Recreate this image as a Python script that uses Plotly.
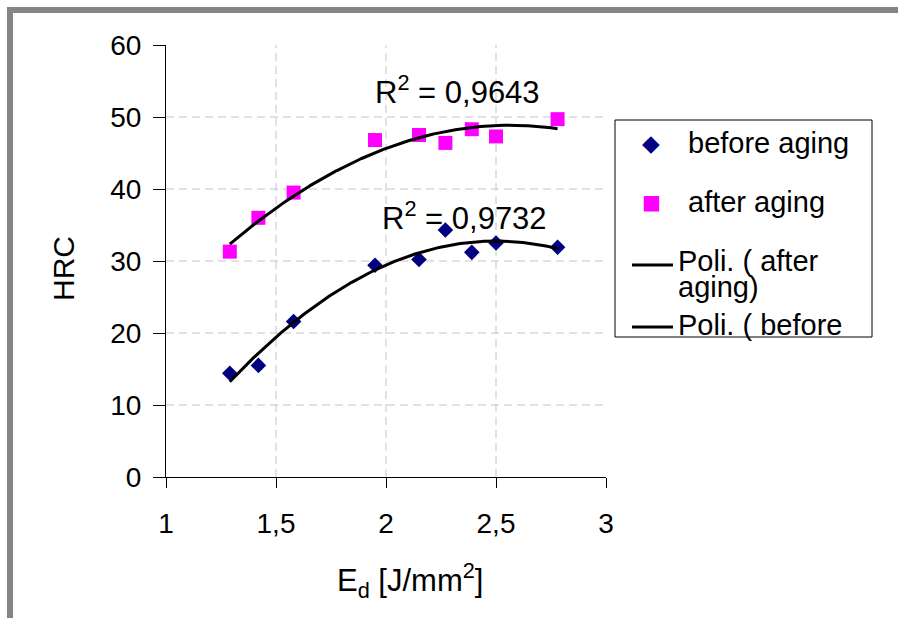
import numpy as np
import plotly.graph_objects as go

# Data
ed = [1.29, 1.42, 1.58, 1.95, 2.15, 2.27, 2.39, 2.50, 2.78]
hrc_before = [14.4, 15.5, 21.6, 29.4, 30.2, 34.3, 31.2, 32.5, 31.9]
hrc_after = [31.3, 36.0, 39.5, 46.8, 47.5, 46.4, 48.3, 47.3, 49.7]
r2_before = "0,9732"
r2_after = "0,9643"
x_ticks = [1, 1.5, 2, 2.5, 3]
x_tick_labels = ["1", "1,5", "2", "2,5", "3"]
y_ticks = [0, 10, 20, 30, 40, 50, 60]
legend_names = ["before aging", "after aging", "Poli. ( after", "aging)", "Poli. ( before"]

FONT = "Liberation Sans, Arial, sans-serif"
FS = 28

# Plot-area geometry (pixels) for paper conversions
L, R, T, B = 166, 606, 45, 477
W, H = 898, 618
def px(x):
    return (x - L) / (R - L)
def py(y):
    return (B - y) / (B - T)

# polynomial (order 2) trendlines
xs = np.linspace(min(ed), max(ed), 200)
pb = np.polyfit(ed, hrc_before, 2)
pa = np.polyfit(ed, hrc_after, 2)

fig = go.Figure()
fig.add_trace(go.Scatter(x=ed, y=hrc_before, mode="markers", name="before aging",
                         marker=dict(symbol="diamond", size=12, color="#000080"),
                         showlegend=False))
fig.add_trace(go.Scatter(x=ed, y=hrc_after, mode="markers", name="after aging",
                         marker=dict(symbol="square", size=14, color="#ff00ff"),
                         showlegend=False))
fig.add_trace(go.Scatter(x=xs, y=np.polyval(pa, xs), mode="lines", name="Poli. ( after aging)",
                         line=dict(color="black", width=3), showlegend=False))
fig.add_trace(go.Scatter(x=xs, y=np.polyval(pb, xs), mode="lines", name="Poli. ( before aging)",
                         line=dict(color="black", width=3), showlegend=False))

GRID = dict(color="#c4c4c4", width=1, dash="8px,5px")
shapes = []
# gridlines (dashed), interior only
for yv in y_ticks[1:-1]:
    shapes.append(dict(type="line", xref="x", yref="y", x0=x_ticks[0], x1=x_ticks[-1], y0=yv, y1=yv,
                       line=GRID, layer="below"))
for xv in x_ticks[1:-1]:
    shapes.append(dict(type="line", xref="x", yref="y", x0=xv, x1=xv, y0=y_ticks[0], y1=y_ticks[-1],
                       line=GRID, layer="below"))
# outer gray frame (top and left)
shapes.append(dict(type="rect", xref="paper", yref="paper", x0=px(7), x1=px(13), y0=py(618), y1=py(7),
                   line=dict(width=0), fillcolor="#858585"))
shapes.append(dict(type="rect", xref="paper", yref="paper", x0=px(7), x1=px(898), y0=py(13), y1=py(7),
                   line=dict(width=0), fillcolor="#858585"))
# legend box
shapes.append(dict(type="rect", xref="paper", yref="paper", x0=px(615), x1=px(872), y0=py(337), y1=py(120),
                   line=dict(color="black", width=1), fillcolor="rgba(0,0,0,0)"))
# legend line glyphs
for yy in (265, 327):
    shapes.append(dict(type="line", xref="paper", yref="paper", x0=px(632), x1=px(673), y0=py(yy), y1=py(yy),
                       line=dict(color="black", width=3)))

def ann(x, y, text, size=FS, color="black", xanchor="center"):
    return dict(x=px(x), y=py(y), xref="paper", yref="paper", text=text, showarrow=False,
                xanchor=xanchor, yanchor="middle", font=dict(size=size, family=FONT, color=color))

annotations = [
    ann(457, 90, "R<sup>2</sup> = " + r2_after, size=31),
    ann(464, 216, "R<sup>2</sup> = " + r2_before, size=31),
    # axis titles
    ann(410, 580, "E<sub>d</sub> [J/mm<sup>2</sup>]", size=31),
    dict(x=px(63), y=py(269), xref="paper", yref="paper", text="HRC", showarrow=False, textangle=-90,
         xanchor="center", yanchor="middle", font=dict(size=30, family=FONT, color="black")),
    # legend glyphs and texts
    dict(x=px(651), y=py(143), xref="paper", yref="paper", text="\u25C6", showarrow=False,
         xanchor="center", yanchor="middle", font=dict(size=23, family="DejaVu Sans", color="#000080")),
    dict(x=px(651), y=py(202), xref="paper", yref="paper", text="\u25A0", showarrow=False,
         xanchor="center", yanchor="middle", font=dict(size=20, family="DejaVu Sans", color="#ff00ff")),
    ann(686, 143, legend_names[0], size=29, xanchor="left"),
    ann(686, 202, legend_names[1], size=29, xanchor="left"),
    ann(676, 261, legend_names[2], size=29, xanchor="left"),
    ann(676, 287, legend_names[3], size=29, xanchor="left"),
    ann(676, 325, legend_names[4], size=29, xanchor="left"),
]

fig.update_layout(
    width=W, height=H,
    margin=dict(l=L, r=W - R, t=T, b=H - B),
    paper_bgcolor="white", plot_bgcolor="white",
    font=dict(family=FONT, size=FS, color="black"),
    shapes=shapes, annotations=annotations,
    showlegend=False,
    xaxis=dict(range=[1, 3], tickvals=x_ticks, ticktext=x_tick_labels, showgrid=False,
               zeroline=False, showline=True, linecolor="black", linewidth=1,
               ticks="outside", ticklen=10, tickcolor="black", ticklabelstandoff=11,
               tickfont=dict(size=FS), fixedrange=True),
    yaxis=dict(range=[0, 60], tickvals=y_ticks, showgrid=False,
               zeroline=False, showline=True, linecolor="black", linewidth=1,
               ticks="outside", ticklen=12, tickcolor="black", ticklabelstandoff=6,
               tickfont=dict(size=FS), fixedrange=True),
)

fig.write_html("out.html")
